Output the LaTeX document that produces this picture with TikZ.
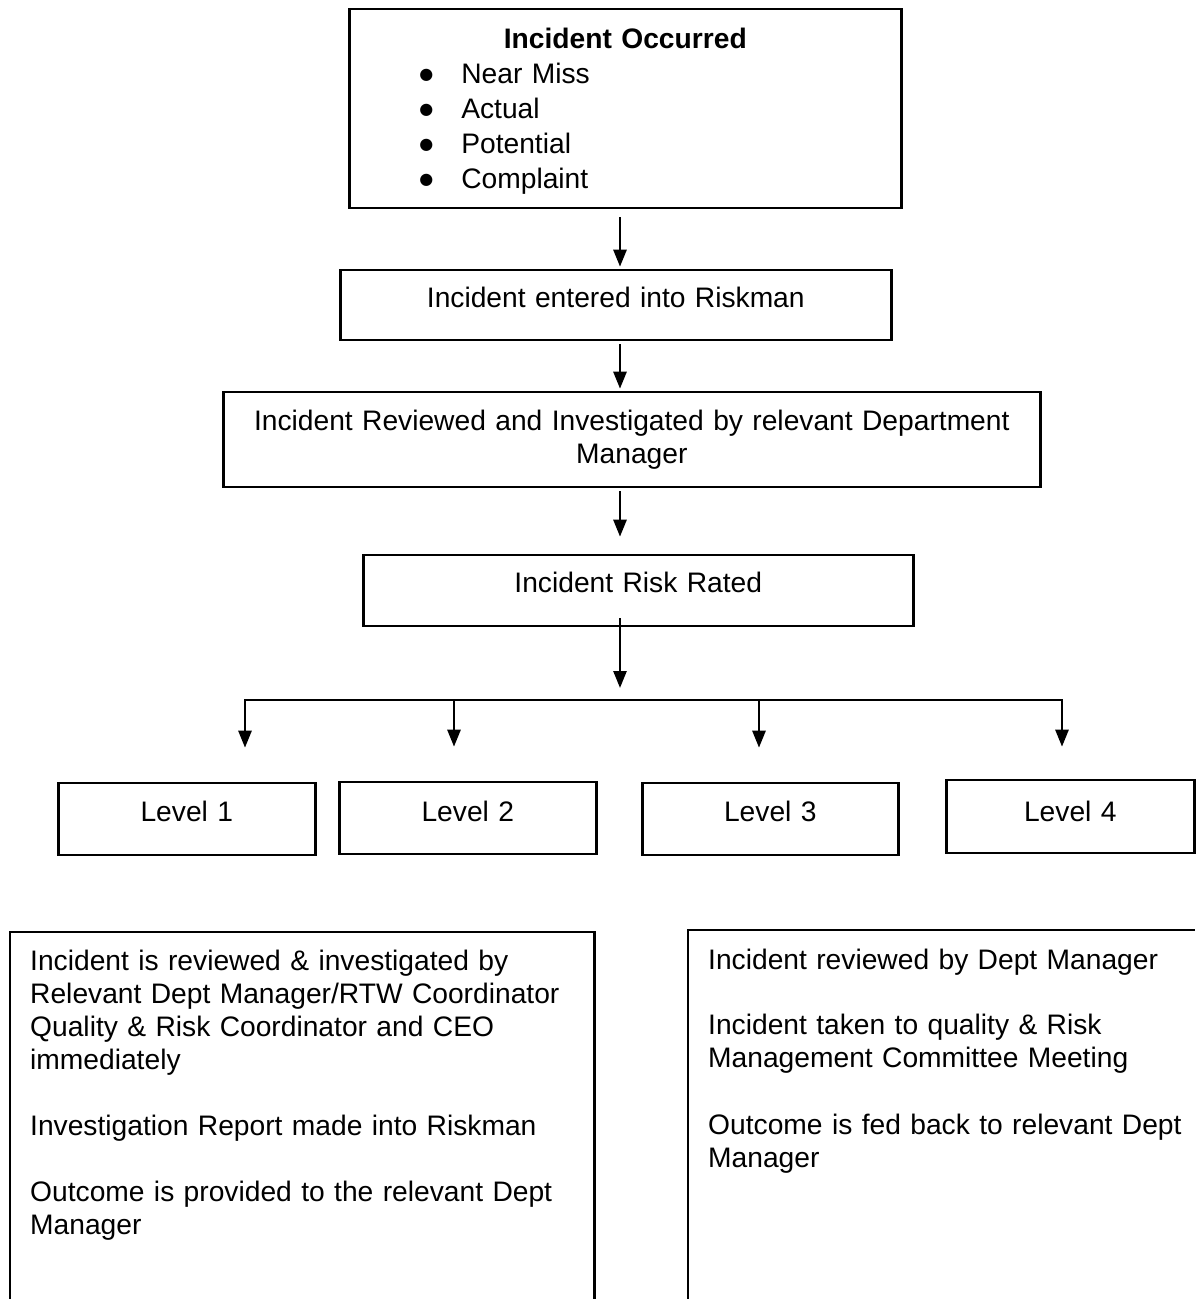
\documentclass[tikz,border=0pt]{standalone}
\usepackage{fontspec}
\setmainfont{Liberation Sans}
\newfontfamily\dejavu{DejaVu Sans}
\usetikzlibrary{arrows.meta}
\newcommand{\bigbul}{\makebox[42pt][l]{\raisebox{4pt}{\dejavu\fontsize{16}{16}\selectfont ●}}}
\begin{document}
\begin{tikzpicture}[x=1pt,y=-1pt,
  boxline/.style={line width=2.6pt},
  box/.style={draw, boxline, inner sep=0pt, anchor=base west, align=center,
    font={\fontsize{28.2}{33}\selectfont}},
  txt/.style={inner sep=0pt, anchor=base west, align=left,
    font={\fontsize{28.2}{33}\selectfont}},
  arr/.style={line width=2.6pt, -{Triangle[length=17pt,width=13pt]}}]
\fill[white] (0,0) rectangle (1195,1299);
\useasboundingbox (0,0) rectangle (1195,1299);

% main column
\node[box, align=left, text width=552pt, text height=39pt, text depth=160pt,
  font={\fontsize{28.2}{35}\selectfont}] (b1) at (348,48)
  {\makebox[552pt]{\bfseries Incident Occurred}\\
   \hspace*{70pt}\bigbul Near Miss\\
   \hspace*{70pt}\bigbul Actual\\
   \hspace*{70pt}\bigbul Potential\\
   \hspace*{70pt}\bigbul Complaint};
\node[box, text width=551pt, text height=37pt, text depth=33pt] (b2) at (339,307)
  {Incident entered into Riskman};
\node[box, text width=817pt, text height=38pt, text depth=57pt] (b3) at (222,430)
  {Incident Reviewed and Investigated by relevant Department\\Manager};
\node[box, text width=550pt, text height=37pt, text depth=34pt] (b4) at (362,592)
  {Incident Risk Rated};

% levels
\node[box, text width=257pt, text height=38pt, text depth=34pt] (l1) at (57,821) {Level 1};
\node[box, text width=257pt, text height=39pt, text depth=33pt] (l2) at (338,821) {Level 2};
\node[box, text width=256pt, text height=38pt, text depth=34pt] (l3) at (641,821) {Level 3};
\node[box, text width=248pt, text height=41pt, text depth=32pt] (l4) at (945,821) {Level 4};

% bottom text boxes
\node[txt, text width=564pt, text height=38pt, text depth=329pt] (lb) at (30,970)
  {Incident is reviewed \& investigated by\\
   Relevant Dept Manager/RTW Coordinator\\
   Quality \& Risk Coordinator and CEO\\
   immediately\\[33pt]
   Investigation Report made into Riskman\\[33pt]
   Outcome is provided to the relevant Dept\\
   Manager};
\node[txt, text width=487pt, text height=39pt, text depth=330pt] (rb) at (708,969)
  {Incident reviewed by Dept Manager\\[32pt]
   Incident taken to quality \& Risk\\
   Management Committee Meeting\\[34pt]
   Outcome is fed back to relevant Dept\\
   Manager};
\draw[boxline] ([xshift=-20pt]lb.south west) -- ([xshift=-20pt]lb.north west)
  -- (lb.north east) -- (lb.south east);
\draw[boxline] ([xshift=-20pt]rb.south west) -- ([xshift=-20pt]rb.north west)
  -- (rb.north east);

% connectors
\coordinate (ax) at (620,0);
\coordinate (j1) at (245,700);
\coordinate (j2) at (454,700);
\coordinate (j3) at (759,700);
\coordinate (j4) at (1062,700);

\draw[arr] ([yshift=-8pt]b1.south -| ax) -- ([yshift=2pt]b2.north -| ax);
\draw[arr] ([yshift=-3pt]b2.south -| ax) -- ([yshift=2pt]b3.north -| ax);
\draw[arr] ([yshift=-3pt]b3.south -| ax) -- ([yshift=17pt]b4.north -| ax);
\draw[arr] ([yshift=9pt]b4.south -| ax) -- ([yshift=12pt]j1 -| ax);

\draw[line width=2.6pt, line cap=rect] (j1) -- (j4);
\draw[arr] (j1) -- ([yshift=34pt]l1.north -| j1);
\draw[arr] (j2) -- ([yshift=34pt]l2.north -| j2);
\draw[arr] (j3) -- ([yshift=34pt]l3.north -| j3);
\draw[arr] (j4) -- ([yshift=32pt]l4.north -| j4);
\end{tikzpicture}
\end{document}
